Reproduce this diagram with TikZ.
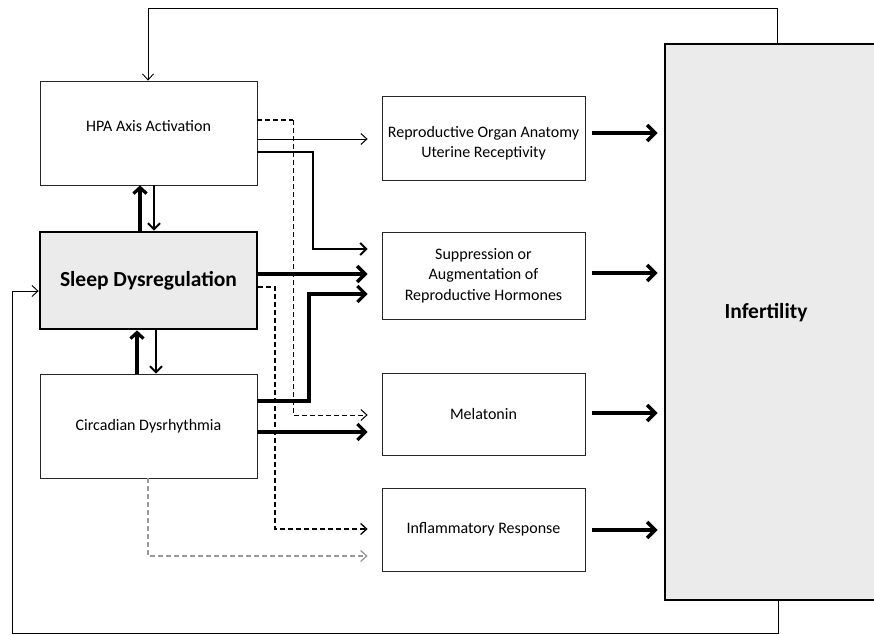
\documentclass[tikz,border=0pt]{standalone}
\usepackage{fontspec}
\setmainfont{Carlito}
\usetikzlibrary{arrows.meta}
\tikzset{
  box/.style={draw=black!85, line width=0.8pt, fill=white, align=center,
    font=\fontsize{16}{20.5}\selectfont, minimum width=203pt, inner sep=2pt},
  lbox/.style={box, minimum width=217pt},
  bigbox/.style={draw=black, line width=2.8pt, fill=black!8, align=center,
    font=\fontsize{21.5}{25}\selectfont\bfseries},
  thinar/.style={line width=1pt, -{Straight Barb[length=6pt,width=11pt]}},
  medar/.style={line width=2pt, -{Straight Barb[length=6pt,width=12pt]}},
  thickar/.style={line width=3.2pt, -{Straight Barb[length=6pt,width=13pt]}},
  bigar/.style={-{Straight Barb[length=8pt,width=16pt]}},
  dsh/.style={dash pattern=on 5pt off 3pt},
  loopline/.style={line width=0.9pt},
}
\begin{document}
\begin{tikzpicture}[x=1pt,y=-1pt]
\useasboundingbox (0,0) rectangle (874,635);
% boxes
\node[lbox, minimum height=104pt, text depth=15pt] (hpa) at (148.5,133) {HPA Axis Activation};
\node[bigbox, minimum width=217pt, minimum height=97pt] (sleep) at (148.5,280.5) {Sleep Dysregulation};
\node[lbox, minimum height=104pt] (circ) at (148.5,426) {Circadian Dysrhythmia};
\node[box, minimum height=84pt, text height=42pt] (repro) at (483.5,138) {Reproductive Organ Anatomy\\Uterine Receptivity};
\node[box, minimum height=87pt] (supp) at (483.5,275.5) {Suppression or\\Augmentation of\\Reproductive Hormones};
\node[box, minimum height=82pt] (mel) at (483.5,414) {Melatonin};
\node[box, minimum height=83pt] (infl) at (483.5,529.5) {Inflammatory Response};
\node[bigbox, minimum width=220pt, minimum height=556pt] (inf) at (775,322) {};
\node[font=\fontsize{21.5}{25}\selectfont\bfseries] (inftext) at (766,313) {Infertility};
% vertical arrows between left boxes
\draw[thickar] (sleep.north -| 140,0) -- (hpa.south -| 140,0);
\draw[medar] (hpa.south -| 154,0) -- (sleep.north -| 154,0);
\draw[thickar] (circ.north -| 137,0) -- (sleep.south -| 137,0);
\draw[medar] (sleep.south -| 156,0) -- (circ.north -| 156,0);
% HPA connectors
\draw[thinar, shorten >=14pt] (hpa.east |- 0,139) -- (repro.west |- 0,139);
\coordinate (hd) at (293,120);
\draw[line width=1.6pt, dsh] (hpa.east |- 0,120) -- (hd);
\draw[line width=1pt, dsh, -{Straight Barb[length=6pt,width=11pt]}, shorten >=14pt]
  (hd) -- (293,415) -- (mel.west |- 0,415);
\draw[medar, shorten >=14pt] (hpa.east |- 0,152) -- (313,152) -- (313,249) -- (supp.west |- 0,249);
% Sleep connectors
\draw[line width=3.5pt, bigar, shorten >=14pt] (sleep.east |- 0,274) -- (supp.west |- 0,274);
\draw[line width=1.3pt, dsh, -{Straight Barb[length=6pt,width=11pt]}, shorten >=14pt]
  (sleep.east |- 0,287) -- (275,287) -- (275,529) -- (infl.west |- 0,529);
% Circadian connectors
\draw[line width=3.2pt, bigar, shorten >=14pt]
  (circ.east |- 0,401) -- (309,401) -- (309,294) -- (supp.west |- 0,294);
\draw[line width=3.2pt, bigar, shorten >=14pt] (circ.east |- 0,432) -- (mel.west |- 0,432);
\draw[line width=1.3pt, dsh, black!40, -{Straight Barb[length=6pt,width=11pt]}, shorten >=14pt]
  (circ.south -| 148,0) -- (148,556) -- (infl.west |- 0,556);
% to infertility
\foreach \s/\yy in {repro/133, supp/273, mel/413, infl/530}{
  \draw[line width=3.5pt, bigar, shorten <=7pt, shorten >=6pt]
    (\s.east |- 0,\yy) -- (inf.west |- 0,\yy);
}
% feedback loops
\draw[loopline, -{Straight Barb[length=6pt,width=11pt]}] (inf.north -| 777,0) -- (777,8) -- (148,8) -- (hpa.north -| 148,0);
\draw[loopline, -{Straight Barb[length=6pt,width=11pt]}] (inf.south -| 778,0) -- (778,633) -- (12,633) -- (12,291) -- (sleep.west |- 0,291);
\end{tikzpicture}
\end{document}
